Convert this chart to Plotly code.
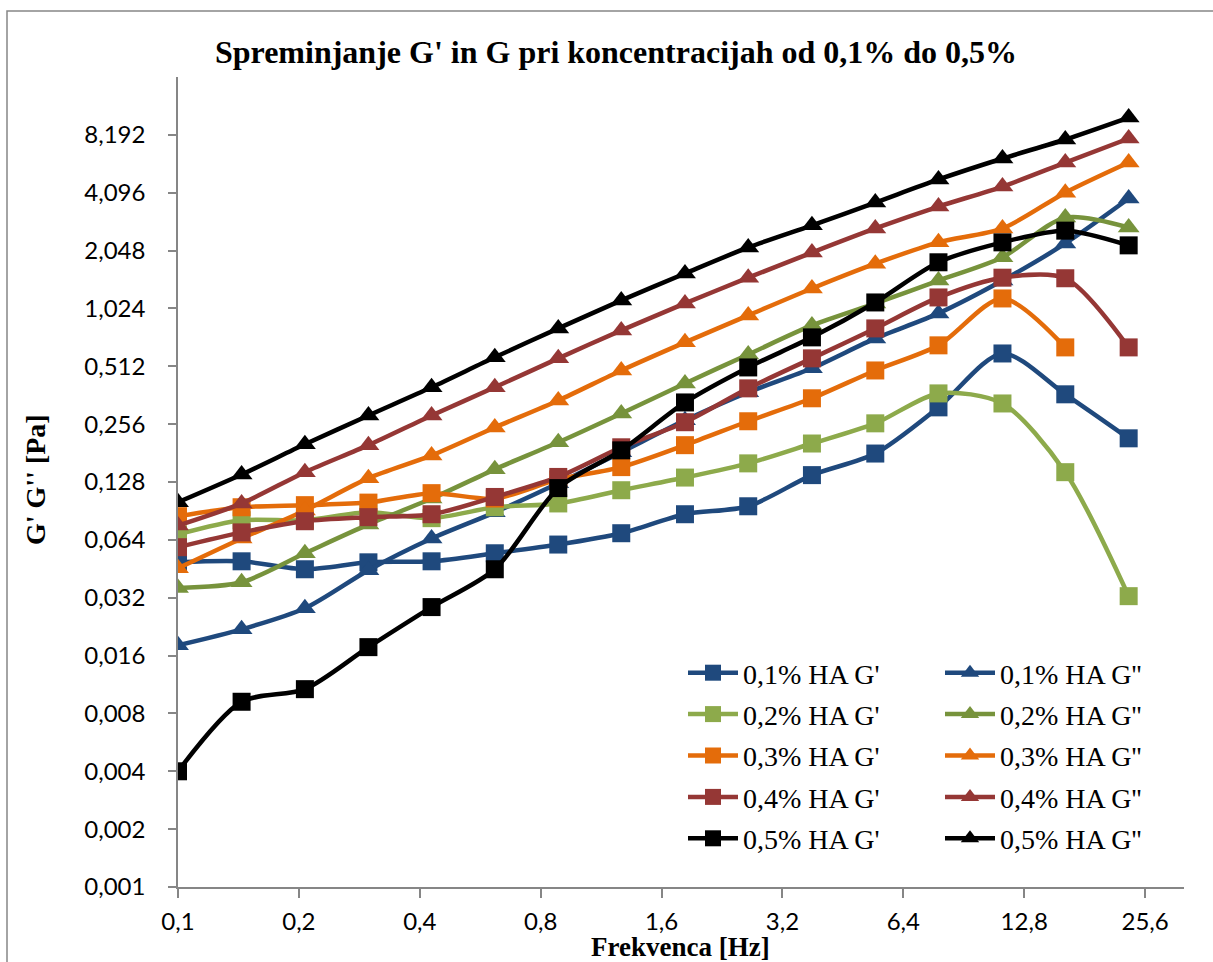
import plotly.graph_objects as go
import math

freq = [0.1, 0.144, 0.207, 0.298, 0.428, 0.615, 0.885, 1.27, 1.83, 2.63, 3.79, 5.45, 7.83, 11.3, 16.2, 23.3]

ha01_g1 = [0.049, 0.0495, 0.045, 0.0489, 0.0495, 0.0545, 0.0605, 0.0693, 0.087, 0.0957, 0.139, 0.18, 0.313, 0.597, 0.366, 0.216]
ha01_g2 = [0.0181, 0.0219, 0.0282, 0.0445, 0.065, 0.089, 0.126, 0.183, 0.268, 0.375, 0.50, 0.715, 0.965, 1.43, 2.23, 3.82]
ha02_g1 = [0.0684, 0.081, 0.081, 0.089, 0.083, 0.0946, 0.099, 0.116, 0.135, 0.160, 0.203, 0.2585, 0.370, 0.328, 0.144, 0.0326]
ha02_g2 = [0.036, 0.0385, 0.0545, 0.077, 0.105, 0.149, 0.206, 0.291, 0.417, 0.59, 0.835, 1.087, 1.43, 1.89, 3.04, 2.70]
ha03_g1 = [0.085, 0.0946, 0.097, 0.100, 0.112, 0.105, 0.132, 0.153, 0.199, 0.265, 0.349, 0.487, 0.658, 1.154, 0.642, None]
ha03_g2 = [0.0455, 0.065, 0.091, 0.134, 0.176, 0.246, 0.340, 0.487, 0.682, 0.942, 1.30, 1.75, 2.26, 2.67, 4.10, 5.88]
ha04_g1 = [0.0586, 0.070, 0.080, 0.084, 0.087, 0.107, 0.136, 0.194, 0.262, 0.393, 0.563, 0.806, 1.168, 1.48, 1.47, 0.642]
ha04_g2 = [0.076, 0.099, 0.144, 0.199, 0.284, 0.398, 0.563, 0.787, 1.087, 1.48, 2.00, 2.67, 3.47, 4.41, 5.88, 7.84]
ha05_g1 = [0.0040, 0.0092, 0.0107, 0.0177, 0.0286, 0.045, 0.119, 0.187, 0.332, 0.505, 0.724, 1.10, 1.78, 2.26, 2.60, 2.18]
ha05_g2 = [0.1004, 0.140, 0.201, 0.284, 0.398, 0.570, 0.806, 1.127, 1.557, 2.126, 2.77, 3.64, 4.80, 6.17, 7.75, 10.08]

series_names = ["0,1% HA G'", "0,1% HA G''", "0,2% HA G'", "0,2% HA G''", "0,3% HA G'", "0,3% HA G''",
                "0,4% HA G'", "0,4% HA G''", "0,5% HA G'", "0,5% HA G''"]
series_values = [ha01_g1, ha01_g2, ha02_g1, ha02_g2, ha03_g1, ha03_g2, ha04_g1, ha04_g2, ha05_g1, ha05_g2]
colors = ["#1F497D", "#1F497D", "#8DAA4B", "#77933C", "#E46C0A", "#E46C0A",
          "#953735", "#953735", "#000000", "#000000"]

x_tickvals = [0.1, 0.2, 0.4, 0.8, 1.6, 3.2, 6.4, 12.8, 25.6]
x_ticktext = ["0,1", "0,2", "0,4", "0,8", "1,6", "3,2", "6,4", "12,8", "25,6"]
y_tickvals = [0.001, 0.002, 0.004, 0.008, 0.016, 0.032, 0.064, 0.128, 0.256, 0.512, 1.024, 2.048, 4.096, 8.192]
y_ticktext = ["0,001", "0,002", "0,004", "0,008", "0,016", "0,032", "0,064", "0,128", "0,256", "0,512",
              "1,024", "2,048", "4,096", "8,192"]

fig = go.Figure()
for i, (name, vals, col) in enumerate(zip(series_names, series_values, colors)):
    is_gp = (i % 2 == 0)
    fig.add_trace(go.Scatter(
        x=freq, y=vals, name=name, mode="lines+markers",
        line=dict(color=col, width=4.5, shape="spline", smoothing=0.8),
        marker=dict(symbol="square" if is_gp else "triangle-up", size=18 if is_gp else 19, color=col),
        legend="legend" if is_gp else "legend2",
        legendgroup="g%d" % i,
    ))

W, H = 1213, 962
L, R, T, B = 178, 29, 77, 75
pw, ph = W - L - R, H - T - B

def px_x(p):
    return (p - L) / pw

def px_y(p):
    return (H - B - p) / ph

axis_col = "#868686"
tickfont = dict(family="Lato", size=24, color="#000000")
legfont = dict(family="Liberation Serif", size=28, color="#000000")

fig.update_layout(
    width=W, height=H,
    margin=dict(l=L, r=R, t=T, b=B),
    paper_bgcolor="white", plot_bgcolor="white",
    showlegend=True,
    title=dict(text="<b>Spreminjanje G' in G pri koncentracijah od 0,1% do 0,5%</b>",
               font=dict(family="Liberation Serif", size=32, color="#000000"),
               x=616 / W, xanchor="center", xref="container",
               y=1 - 52 / H, yanchor="middle", yref="container"),
    xaxis=dict(type="log", range=[math.log10(0.1), math.log10(32)],
               tickvals=x_tickvals, ticktext=x_ticktext, tickfont=tickfont,
               showgrid=False, zeroline=False, showline=True, linecolor=axis_col, linewidth=1.5,
               ticks="outside", ticklen=9, tickcolor=axis_col, tickwidth=1.5, ticklabelstandoff=3),
    yaxis=dict(type="log", range=[math.log10(0.001), math.log10(16.384)],
               tickvals=y_tickvals, ticktext=y_ticktext, tickfont=tickfont,
               showgrid=False, zeroline=False, showline=True, linecolor=axis_col, linewidth=1.5,
               ticks="outside", ticklen=8, tickcolor=axis_col, tickwidth=1.5, ticklabelstandoff=18),
    legend=dict(x=px_x(683), y=px_y(648), xanchor="left", yanchor="top", orientation="v",
                font=legfont, bgcolor="rgba(0,0,0,0)", itemwidth=50, tracegroupgap=2),
    legend2=dict(x=px_x(940), y=px_y(648), xanchor="left", yanchor="top", orientation="v",
                 font=legfont, bgcolor="rgba(0,0,0,0)", itemwidth=50, tracegroupgap=2),
    annotations=[
        dict(text="<b>Frekvenca [Hz]</b>", x=px_x(680), y=px_y(947), xref="paper", yref="paper",
             xanchor="center", yanchor="middle", showarrow=False,
             font=dict(family="Liberation Serif", size=27, color="#000000")),
        dict(text="<b>G' G'' [Pa]</b>", x=px_x(35), y=px_y(480), xref="paper", yref="paper",
             xanchor="center", yanchor="middle", showarrow=False, textangle=-90,
             font=dict(family="Liberation Serif", size=28, color="#000000")),
    ],
    shapes=[dict(type="rect", xref="paper", yref="paper",
                 x0=px_x(7), x1=px_x(1225), y0=px_y(975), y1=px_y(11),
                 line=dict(color=axis_col, width=1.5), fillcolor="rgba(0,0,0,0)", layer="below")],
)

fig.write_html("out.html")
